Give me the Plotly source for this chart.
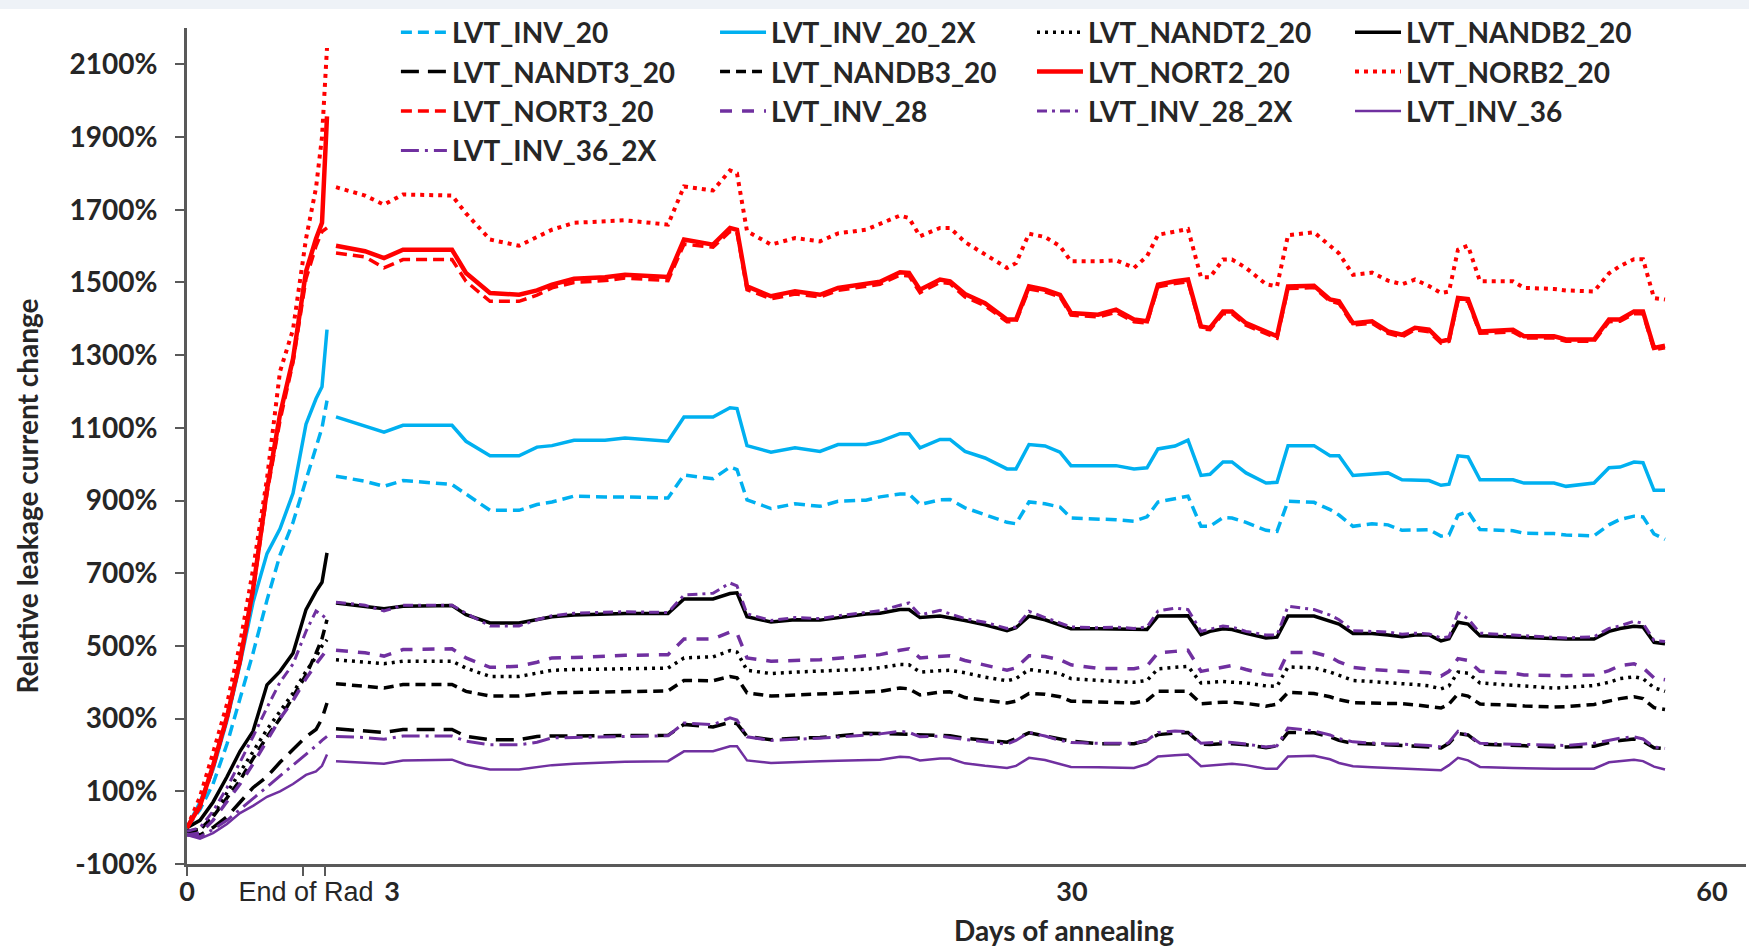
import plotly.graph_objects as go

# ---- x positions (measurement timeline index) ----
t_rad = [0, 13, 26, 40, 53, 66, 80, 93, 106, 119, 129, 135, 140]
t_anneal = [149, 178, 197, 216, 265, 279, 303, 332, 350, 365,
            387, 418, 438, 481, 497, 526, 543, 550, 560, 584,
            608, 633, 651, 679, 693, 713, 722, 733, 753, 763,
            778, 798, 820, 829, 842, 858, 873, 884, 911, 929,
            947, 960, 971, 988, 1001, 1014, 1023, 1036, 1045, 1059,
            1079, 1090, 1101, 1127, 1143, 1152, 1166, 1185, 1201, 1215,
            1228, 1242, 1254, 1262, 1271, 1281, 1293, 1326, 1337, 1367,
            1379, 1407, 1422, 1433, 1447, 1456, 1467, 1478]

x_tick_pos = [0, 119, 205, 885, 1525]
x_tick_text = ["<b>0</b>",
               "<span style='font-family:Liberation Sans;font-weight:normal'>End of Rad</span>",
               "<b>3</b>", "<b>30</b>", "<b>60</b>"]
x_mark_pos = [0, 116, 138]
y_tick_vals = [-100, 100, 300, 500, 700, 900, 1100, 1300, 1500, 1700, 1900, 2100]
y_tick_text = ["-100%", "100%", "300%", "500%", "700%", "900%", "1100%",
               "1300%", "1500%", "1700%", "1900%", "2100%"]

# ---- series values (%) : irradiation phase ----
inv20_rad = [0, 50, 120, 230, 355, 480, 626, 750, 840, 960, 1050, 1100, 1175]
inv20x_rad = [0, 70, 160, 295, 450, 620, 754, 822, 920, 1110, 1180, 1213, 1370]
nandt2_rad = [-10, -5, 35, 95, 150, 210, 270, 320, 370, 430, 470, 500, 517]
nandb2_rad = [0, 20, 70, 140, 210, 265, 393, 430, 480, 600, 650, 675, 756]
nandt3_rad = [-10, -20, 0, 30, 70, 110, 140, 180, 215, 250, 270, 300, 343]
nandb3_rad = [-10, -5, 30, 80, 130, 190, 250, 300, 360, 420, 480, 520, 572]
nort2_rad = [0, 60, 170, 305, 460, 655, 930, 1137, 1290, 1530, 1620, 1664, 1957]
norb2_rad = [0, 85, 205, 340, 505, 710, 960, 1255, 1370, 1620, 1760, 1900, 2145]
nort3_rad = [0, 55, 165, 300, 455, 650, 920, 1120, 1280, 1510, 1600, 1640, 1650]
inv28_rad = [-20, -15, 20, 70, 120, 175, 240, 300, 350, 410, 450, 470, 490]
inv28x_rad = [-10, 0, 45, 110, 180, 250, 330, 400, 450, 540, 596, 585, 573]
inv36_rad = [-20, -30, -15, 10, 40, 60, 85, 100, 120, 145, 155, 170, 201]
inv36x_rad = [-20, -25, -5, 20, 50, 80, 110, 140, 170, 200, 225, 240, 251]

# ---- series values (%) : annealing phase ----
inv20_ann = [967, 953, 939, 955, 944, 918, 873, 873, 889, 896,
             912, 910, 910, 907, 970, 960, 992, 985, 902, 878,
             891, 884, 898, 901, 910, 918, 918, 889, 902, 903,
             880, 861, 840, 836, 896, 891, 882, 852, 850, 847,
             843, 855, 896, 905, 912, 829, 829, 853, 852, 840,
             818, 815, 898, 895, 875, 860, 829, 836, 833, 818,
             820, 820, 802, 805, 860, 870, 820, 817, 810, 809,
             805, 803, 833, 848, 857, 855, 808, 793]
inv20x_ann = [1130, 1104, 1088, 1107, 1107, 1063, 1023, 1023, 1047, 1051,
              1066, 1066, 1072, 1063, 1130, 1130, 1155, 1153, 1051, 1033,
              1045, 1035, 1054, 1054, 1063, 1084, 1084, 1045, 1068, 1068,
              1035, 1017, 987, 987, 1054, 1050, 1033, 996, 996, 996,
              987, 990, 1042, 1050, 1066, 969, 972, 1006, 1006, 976,
              948, 950, 1051, 1051, 1023, 1023, 969, 974, 976, 957,
              957, 955, 942, 945, 1023, 1020, 957, 957, 948, 948,
              939, 948, 990, 992, 1006, 1004, 928, 928]
nandt2_ann = [462, 455, 451, 458, 458, 439, 416, 416, 425, 433,
              435, 437, 438, 439, 467, 470, 487, 483, 433, 424,
              428, 430, 432, 436, 440, 449, 448, 428, 432, 433,
              426, 414, 404, 410, 435, 430, 424, 410, 404, 402,
              400, 405, 437, 441, 444, 398, 400, 402, 400, 398,
              390, 389, 442, 440, 428, 418, 405, 402, 400, 396,
              394, 390, 382, 390, 428, 425, 398, 392, 390, 384,
              386, 391, 400, 410, 415, 410, 385, 375]
nandb2_ann = [618, 608, 602, 609, 611, 586, 563, 563, 572, 580,
              585, 588, 589, 589, 629, 629, 644, 646, 580, 566,
              572, 571, 578, 588, 590, 600, 600, 578, 582, 578,
              570, 558, 542, 550, 582, 572, 558, 547, 547, 547,
              545, 545, 582, 583, 583, 531, 540, 547, 545, 535,
              522, 524, 582, 582, 568, 560, 534, 534, 530, 525,
              530, 530, 514, 520, 565, 560, 528, 525, 524, 519,
              519, 519, 540, 548, 554, 552, 510, 506]
nandt3_ann = [272, 266, 262, 270, 270, 251, 242, 242, 251, 252,
              252, 252, 253, 254, 284, 277, 290, 286, 251, 242,
              246, 248, 252, 260, 259, 257, 256, 255, 254, 253,
              246, 240, 235, 245, 261, 252, 245, 238, 231, 231,
              231, 240, 256, 260, 262, 230, 229, 231, 231, 228,
              220, 225, 262, 261, 250, 240, 232, 230, 228, 226,
              225, 222, 219, 232, 259, 255, 230, 226, 224, 222,
              222, 224, 234, 240, 244, 238, 220, 217]
nandb3_ann = [396, 390, 384, 394, 394, 375, 362, 362, 366, 371,
              372, 373, 374, 376, 405, 404, 416, 412, 371, 362,
              365, 367, 370, 373, 375, 384, 382, 365, 373, 374,
              358, 350, 343, 348, 369, 367, 360, 348, 345, 343,
              343, 350, 375, 375, 375, 341, 343, 345, 345, 342,
              334, 340, 372, 369, 360, 352, 344, 343, 342, 341,
              338, 334, 329, 340, 368, 362, 340, 337, 335, 332,
              333, 339, 348, 355, 360, 355, 330, 325]
nort2_ann = [1601, 1586, 1567, 1590, 1590, 1526, 1471, 1466, 1478, 1494,
             1510, 1514, 1521, 1515, 1618, 1604, 1650, 1645, 1489, 1462,
             1476, 1466, 1485, 1497, 1502, 1528, 1526, 1480, 1508, 1503,
             1468, 1443, 1398, 1398, 1489, 1480, 1466, 1416, 1411, 1425,
             1398, 1393, 1494, 1503, 1508, 1379, 1375, 1420, 1420, 1388,
             1365, 1352, 1489, 1491, 1453, 1448, 1388, 1393, 1365, 1356,
             1375, 1370, 1338, 1343, 1457, 1454, 1365, 1370, 1352, 1352,
             1343, 1343, 1398, 1398, 1420, 1420, 1320, 1326]
norb2_ann = [1762, 1739, 1714, 1742, 1739, 1690, 1618, 1601, 1625, 1645,
             1664, 1668, 1671, 1659, 1764, 1753, 1808, 1800, 1641, 1604,
             1622, 1613, 1635, 1645, 1660, 1684, 1677, 1627, 1650, 1650,
             1611, 1576, 1540, 1553, 1634, 1625, 1600, 1558, 1558, 1561,
             1540, 1572, 1631, 1640, 1647, 1514, 1514, 1563, 1563, 1540,
             1495, 1489, 1630, 1638, 1599, 1580, 1521, 1527, 1505, 1495,
             1508, 1490, 1471, 1475, 1590, 1601, 1503, 1503, 1485, 1482,
             1478, 1475, 1525, 1545, 1564, 1564, 1457, 1453]
nort3_ann = [1581, 1570, 1540, 1563, 1563, 1503, 1448, 1448, 1465, 1485,
             1500, 1505, 1512, 1505, 1605, 1597, 1640, 1638, 1480, 1455,
             1468, 1460, 1478, 1490, 1495, 1520, 1518, 1472, 1500, 1497,
             1460, 1436, 1392, 1392, 1482, 1474, 1460, 1410, 1405, 1418,
             1392, 1388, 1488, 1497, 1502, 1373, 1370, 1414, 1414, 1382,
             1360, 1347, 1483, 1486, 1448, 1442, 1383, 1388, 1360, 1350,
             1370, 1364, 1333, 1338, 1450, 1448, 1360, 1364, 1347, 1347,
             1338, 1338, 1392, 1393, 1414, 1414, 1315, 1320]
inv28_ann = [488, 481, 472, 490, 492, 467, 441, 444, 455, 467,
             468, 472, 474, 476, 519, 519, 538, 535, 467, 458,
             460, 462, 466, 474, 476, 488, 492, 467, 470, 473,
             460, 448, 433, 440, 473, 471, 462, 448, 438, 438,
             437, 445, 481, 485, 488, 430, 435, 442, 446, 435,
             421, 418, 482, 482, 470, 456, 441, 435, 432, 430,
             428, 426, 417, 430, 465, 460, 430, 425, 420, 417,
             418, 420, 432, 446, 451, 440, 412, 407]
inv28x_ann = [620, 612, 596, 612, 612, 590, 555, 555, 572, 583,
              590, 592, 594, 592, 640, 645, 673, 665, 588, 570,
              578, 575, 583, 592, 597, 612, 618, 585, 598, 588,
              575, 565, 548, 552, 595, 578, 563, 552, 550, 552,
              548, 552, 596, 604, 600, 540, 546, 555, 552, 540,
              530, 530, 609, 600, 585, 572, 542, 540, 538, 532,
              535, 533, 522, 525, 591, 575, 535, 530, 528, 524,
              522, 525, 548, 555, 568, 562, 515, 512]
inv36_ann = [183, 179, 176, 185, 187, 173, 160, 160, 166, 172,
             176, 179, 181, 183, 210, 210, 224, 224, 185, 178,
             181, 183, 184, 186, 187, 195, 194, 185, 190, 190,
             177, 170, 164, 170, 192, 186, 176, 167, 166, 165,
             164, 175, 196, 199, 201, 169, 171, 175, 176, 172,
             162, 162, 196, 198, 188, 178, 169, 166, 164, 162,
             161, 160, 158, 172, 192, 185, 167, 164, 163, 162,
             162, 162, 180, 183, 187, 183, 168, 160]
inv36x_ann = [251, 248, 243, 252, 252, 238, 228, 228, 235, 247,
              248, 249, 250, 253, 288, 283, 302, 296, 250, 240,
              243, 246, 249, 255, 258, 265, 262, 250, 252, 248,
              242, 236, 230, 240, 262, 252, 240, 234, 232, 231,
              232, 240, 262, 266, 264, 232, 233, 236, 234, 230,
              222, 225, 274, 266, 255, 245, 236, 233, 230, 230,
              228, 226, 222, 235, 265, 255, 232, 230, 228, 226,
              226, 232, 240, 246, 250, 244, 222, 218]

BLUE, RED, BLACK, PURPLE = "#00B0F0", "#FF0000", "#000000", "#7030A0"

series = [
    ("LVT_INV_20", inv20_rad, inv20_ann, BLUE, "11px,6px", 3.5),
    ("LVT_INV_20_2X", inv20x_rad, inv20x_ann, BLUE, "solid", 3.5),
    ("LVT_NANDT2_20", nandt2_rad, nandt2_ann, BLACK, "3px,5px", 3.5),
    ("LVT_NANDB2_20", nandb2_rad, nandb2_ann, BLACK, "solid", 3.5),
    ("LVT_NANDT3_20", nandt3_rad, nandt3_ann, BLACK, "18px,9px", 3.5),
    ("LVT_NANDB3_20", nandb3_rad, nandb3_ann, BLACK, "10px,6px", 3.5),
    ("LVT_NORT2_20", nort2_rad, nort2_ann, RED, "solid", 4.5),
    ("LVT_NORB2_20", norb2_rad, norb2_ann, RED, "4px,5px", 4),
    ("LVT_NORT3_20", nort3_rad, nort3_ann, RED, "11px,6px", 3.5),
    ("LVT_INV_28", inv28_rad, inv28_ann, PURPLE, "12px,10px", 3.5),
    ("LVT_INV_28_2X", inv28x_rad, inv28x_ann, PURPLE, "10px,5px,3px,5px", 3),
    ("LVT_INV_36", inv36_rad, inv36_ann, PURPLE, "solid", 2.5),
    ("LVT_INV_36_2X", inv36x_rad, inv36x_ann, PURPLE, "18px,6px,3px,6px", 3),
]

legend_ids = ["legend", "legend2", "legend3", "legend4"]

fig = go.Figure()
for i, (name, rad, ann, color, dash, w) in enumerate(series):
    if len(rad) != len(t_rad) or len(ann) != len(t_anneal):
        raise ValueError(name)
    fig.add_trace(go.Scatter(
        x=t_rad + [None] + t_anneal,
        y=rad + [None] + ann,
        mode="lines", name=name, connectgaps=False,
        legend=legend_ids[i % 4],
        line=dict(color=color, dash=dash, width=w),
    ))

TXT = "#262626"
AX = "#595959"
BOLD = dict(family="Lato", size=28, color=TXT, weight="bold")
TITLE = dict(family="Lato", size=28, color=TXT, weight="bold")


def legend_at(xp):
    return dict(orientation="v", x=xp, y=1.0245, xanchor="left", yanchor="top",
                itemwidth=46, font=BOLD, bgcolor="rgba(0,0,0,0)",
                traceorder="normal", borderwidth=0)


fig.update_layout(
    width=1749, height=950,
    margin=dict(l=187, r=3, t=28, b=86, autoexpand=False),
    paper_bgcolor="white", plot_bgcolor="white",
    showlegend=True,
    legend=legend_at(0.134),
    legend2=legend_at(0.3387),
    legend3=legend_at(0.542),
    legend4=legend_at(0.746),
    xaxis=dict(range=[0, 1559], showline=True, linecolor=AX, linewidth=3,
               showgrid=False, zeroline=False, ticks="", automargin=False,
               tickangle=0,
               tickmode="array", tickvals=x_tick_pos, ticktext=x_tick_text,
               tickfont=dict(family="Lato", size=27, color=TXT),
               ticklabelstandoff=2,
               minor=dict(tickvals=x_mark_pos, ticks="outside", ticklen=9,
                          tickwidth=2, tickcolor=AX, showgrid=False)),
    yaxis=dict(range=[-100, 2200], showline=True, linecolor=AX, linewidth=3,
               showgrid=False, zeroline=False, ticks="outside", ticklen=9,
               tickwidth=2, tickcolor=AX, tickmode="array", tickvals=y_tick_vals,
               ticktext=y_tick_text, tickfont=BOLD, ticklabelstandoff=12,
               automargin=False),
    shapes=[dict(type="rect", xref="paper", yref="paper", x0=-0.13, x1=1.01,
                 y0=1.0227, y1=1.05, fillcolor="#EEF2F7", line=dict(width=0),
                 layer="below")],
    annotations=[
        dict(text="Relative leakage current change", xref="paper", yref="paper",
             x=-0.102, y=0.4408, textangle=-90, showarrow=False, font=TITLE,
             xanchor="center", yanchor="middle"),
        dict(text="Days of annealing", xref="paper", yref="paper",
             x=0.5625, y=-0.0795, showarrow=False, font=TITLE,
             xanchor="center", yanchor="middle"),
    ],
)

fig.write_html("out.html")
